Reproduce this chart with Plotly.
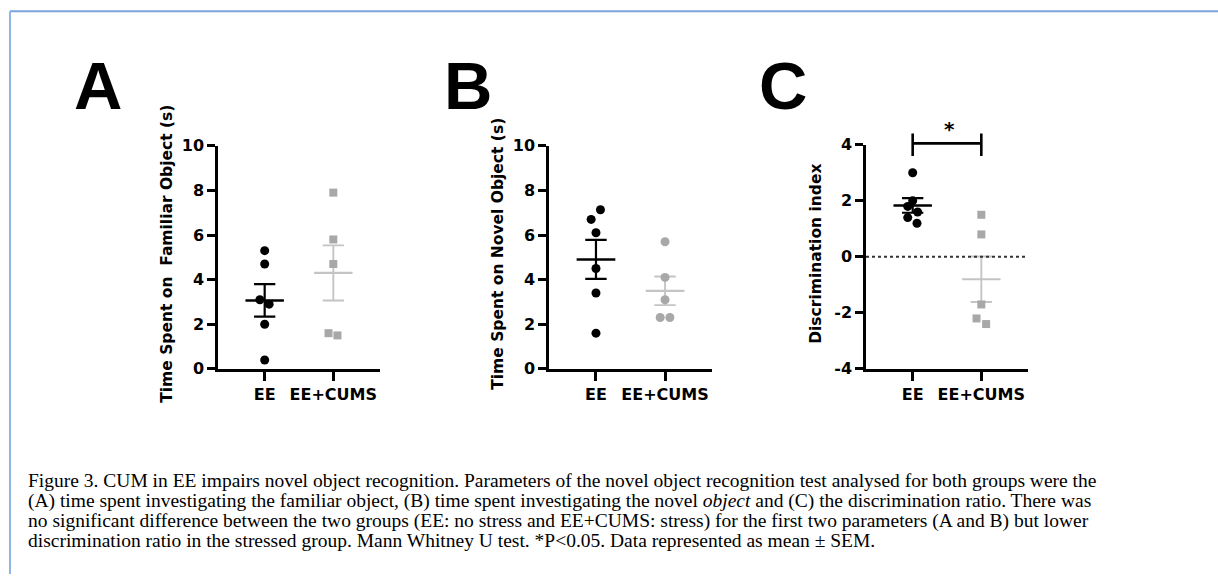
import numpy as np
import plotly.graph_objects as go

# ---------------- data ----------------
GROUPS = ["EE", "EE+CUMS"]

FAM_EE = [5.3, 4.7, 3.1, 2.9, 2.0, 0.4]
FAM_CUMS = [7.9, 5.8, 4.7, 1.6, 1.5]

NOV_EE = [7.13, 6.7, 6.1, 4.5, 3.4, 1.6]
NOV_CUMS = [5.7, 4.1, 3.1, 2.3, 2.3]

DI_EE = [3.0, 2.0, 1.8, 1.6, 1.4, 1.2]
DI_CUMS = [1.5, 0.8, -1.7, -2.2, -2.4]

# horizontal scatter offsets of the dots (as drawn in the original)
JIT_FAM_EE = [0, 0, -0.07, 0.065, 0, 0]
JIT_FAM_CUMS = [0, 0, 0, -0.07, 0.06]
JIT_NOV_EE = [0.065, -0.07, 0, 0, 0, 0]
JIT_NOV_CUMS = [0, 0, 0, -0.07, 0.07]
JIT_DI_EE = [0, 0, -0.072, 0.072, -0.072, 0.063]
JIT_DI_CUMS = [0, 0, 0, -0.07, 0.07]

YTICKS_AB = [0, 2, 4, 6, 8, 10]
YTICKS_C = [-4, -2, 0, 2, 4]

YTITLES = ["Time Spent on  Familiar Object (s)",
           "Time Spent on Novel Object (s)",
           "Discrimination index"]
LETTERS = ["A", "B", "C"]

CAPTION_LINES = [
    "Figure 3. CUM in EE impairs novel object recognition. Parameters of the novel object recognition test analysed for both groups were the",
    "(A) time spent investigating the familiar object, (B) time spent investigating the novel <i>object</i> and (C) the discrimination ratio. There was",
    "no significant difference between the two groups (EE: no stress and EE+CUMS: stress) for the first two parameters (A and B) but lower",
    "discrimination ratio in the stressed group. Mann Whitney U test. *P&lt;0.05. Data represented as mean ± SEM.",
]

# ---------------- layout helpers ----------------
W, H = 1218, 584
# vertical correction measured for the capture (picture y = 0.967*y + 7.3)
VS, VO = 0.967, 7.3
def px(x):
    return x / W
def vy(y):
    return (y - VO) / VS
def py(y):
    return 1 - vy(y) / H

BLACK = "#000000"
GREY_M = "#a8a8a8"
GREY_L = "#c4c4c4"
SANS = "DejaVu Sans, Liberation Sans, Arial, sans-serif"
AXFONT = dict(family=SANS, size=16, color="black", weight="bold")

fig = go.Figure()

panels = [
    dict(ee=FAM_EE, cu=FAM_CUMS, jee=JIT_FAM_EE, jcu=JIT_FAM_CUMS, sym_cu="square",
         xd=(218, 380), yd=(144, 367), yr=(0, 10), yt=YTICKS_AB, tx=167),
    dict(ee=NOV_EE, cu=NOV_CUMS, jee=JIT_NOV_EE, jcu=JIT_NOV_CUMS, sym_cu="circle",
         xd=(549, 712), yd=(144, 367), yr=(0, 10), yt=YTICKS_AB, tx=498),
    dict(ee=DI_EE, cu=DI_CUMS, jee=JIT_DI_EE, jcu=JIT_DI_CUMS, sym_cu="square",
         xd=(866, 1028), yd=(143, 367), yr=(-4, 4), yt=YTICKS_C, tx=816),
]

MEAN_HW = 0.28
CAP_HW = 0.155

for i, p in enumerate(panels):
    xa = "x" if i == 0 else f"x{i+1}"
    ya = "y" if i == 0 else f"y{i+1}"
    for gi, (vals, jit, col, lcol, sym, lw) in enumerate([
        (p["ee"], p["jee"], BLACK, BLACK, "circle", 2.6),
        (p["cu"], p["jcu"], GREY_M, GREY_L, p["sym_cu"], 2.2),
    ]):
        v = np.array(vals, dtype=float)
        m = v.mean()
        s = v.std(ddof=1) / np.sqrt(len(v))
        fig.add_trace(go.Scatter(x=[gi - MEAN_HW, gi + MEAN_HW], y=[m, m], mode="lines",
                                 line=dict(color=lcol, width=lw), xaxis=xa, yaxis=ya,
                                 showlegend=False, hoverinfo="skip"))
        fig.add_trace(go.Scatter(
            x=[gi, gi, None, gi - CAP_HW, gi + CAP_HW, None, gi - CAP_HW, gi + CAP_HW],
            y=[m - s, m + s, None, m + s, m + s, None, m - s, m - s],
            mode="lines", line=dict(color=lcol, width=lw * 0.85), xaxis=xa, yaxis=ya,
            showlegend=False, hoverinfo="skip"))
        fig.add_trace(go.Scatter(x=[gi + j for j in jit], y=v, mode="markers",
                                 marker=dict(symbol=sym, size=9 if sym == "circle" else 8, color=col,
                                             line=dict(width=0)),
                                 xaxis=xa, yaxis=ya, showlegend=False, cliponaxis=False))

    xkey = "xaxis" if i == 0 else f"xaxis{i+1}"
    ykey = "yaxis" if i == 0 else f"yaxis{i+1}"
    fig.update_layout(**{
        xkey: dict(domain=[px(p["xd"][0]), px(p["xd"][1])], range=[-0.68, 1.68],
                   anchor=ya, tickmode="array", tickvals=[0, 1], ticktext=GROUPS,
                   showgrid=False, zeroline=False, showline=True, linecolor="black",
                   linewidth=2.5, ticks="outside", ticklen=9, tickwidth=2.5, tickcolor="black",
                   tickfont=AXFONT, fixedrange=True),
        ykey: dict(domain=[py(p["yd"][1]), py(p["yd"][0])], range=list(p["yr"]),
                   anchor=xa, tickmode="array", tickvals=p["yt"],
                   ticktext=[str(t) for t in p["yt"]],
                   showgrid=False, zeroline=False, showline=True, linecolor="black",
                   linewidth=2.5, ticks="outside", ticklen=8, tickwidth=2.5, tickcolor="black",
                   tickfont=AXFONT, fixedrange=True),
    })
    fig.add_annotation(text=YTITLES[i], textangle=-90, xref="paper", yref="paper",
                       x=px(p["tx"]), y=py(252),
                       xanchor="center", yanchor="middle", showarrow=False,
                       font=dict(family=SANS, size=15.5, color="black", weight="bold"))

# panel letters
for letter, xc in zip(LETTERS, [98, 468, 783]):
    fig.add_annotation(text=letter, xref="paper", yref="paper", x=px(xc), y=py(84),
                       xanchor="center", yanchor="middle", showarrow=False,
                       font=dict(family="Liberation Sans, Arial, sans-serif", size=67,
                                 color="black", weight="bold"))

# zero reference line (panel C)
fig.add_shape(type="line", xref="x3 domain", yref="y3", x0=0, x1=1, y0=0, y1=0,
              line=dict(color="#333333", width=2, dash="dot"))

# helper axis sharing panel C's scale but extending above it (for the significance bracket)
c = panels[2]
ppu = (vy(c["yd"][1]) - vy(c["yd"][0])) / (c["yr"][1] - c["yr"][0])
top_px = 95
fig.update_layout(yaxis4=dict(domain=[py(c["yd"][1]), py(top_px)],
                              range=[c["yr"][0], c["yr"][0] + (vy(c["yd"][1]) - vy(top_px)) / ppu],
                              anchor="x3", visible=False, showgrid=False, zeroline=False,
                              fixedrange=True))
fig.add_trace(go.Scatter(x=[0, 0, None, 0, 1, None, 1, 1], y=[3.6, 4.4, None, 4.05, 4.05, None, 3.6, 4.4],
                         mode="lines", line=dict(color="black", width=2.6),
                         xaxis="x3", yaxis="y4", showlegend=False, hoverinfo="skip"))
fig.add_annotation(text="*", xref="x3", yref="y4", x=0.53, y=4.55, showarrow=False,
                   xanchor="center", yanchor="middle",
                   font=dict(family=SANS, size=20, color="black", weight="bold"))

# caption, one line per annotation
for k, line in enumerate(CAPTION_LINES):
    fig.add_annotation(text=line, xref="paper", yref="paper", x=px(26), y=py(479 + 20 * k),
                       xanchor="left", yanchor="middle", align="left", showarrow=False,
                       font=dict(family="Liberation Serif, Times New Roman, serif", size=19.5,
                                 color="black"))

# frame lines (top and left)
fig.add_shape(type="line", xref="paper", yref="paper", x0=px(10), x1=1, y0=py(9.5), y1=py(9.5),
              line=dict(color="#7aa5de", width=2))
fig.add_shape(type="line", xref="paper", yref="paper", x0=px(10), x1=px(10), y0=py(9.5), y1=0,
              line=dict(color="#8fb5e6", width=2))

fig.update_layout(width=W, height=H, margin=dict(l=0, r=0, t=0, b=0),
                  paper_bgcolor="white", plot_bgcolor="rgba(0,0,0,0)", showlegend=False)

fig.write_html("out.html", config={"displayModeBar": False},
               post_script="document.body.style.margin='0px';"
                           "var d=document.getElementById('{plot_id}');"
                           "d.style.position='fixed';d.style.left='0px';d.style.top='0px';")
